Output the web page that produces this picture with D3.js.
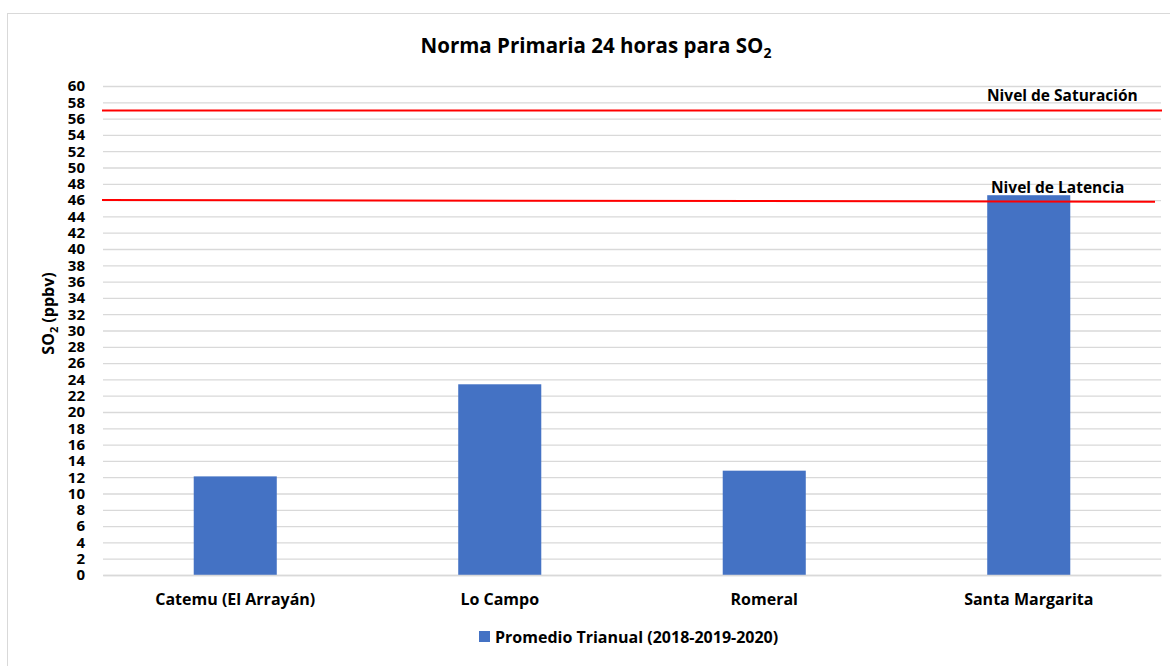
<!DOCTYPE html>
<html>
<head>
<meta charset="utf-8">
<script src="https://cdn.jsdelivr.net/npm/d3@7"></script>
<style>
  body { margin:0; background:#fff; }
  text { font-family: "Open Sans", sans-serif; font-weight:700; fill:#000; }
</style>
</head>
<body>
<div id="canvas"></div>
<script>
// data
var stations = ['Catemu (El Arrayán)', 'Lo Campo', 'Romeral', 'Santa Margarita'];
var promedio = [12.1, 23.4, 12.8, 46.6];
var levelNames = ['Nivel de Saturación', 'Nivel de Latencia'];
var levelStart = [57, 46];
var levelEnd = [57, 45.8];
var yTicks = d3.range(0, 62, 2);
var seriesName = 'Promedio Trianual (2018-2019-2020)';

var W = 1170, H = 666;
var m = {t:86, r:9, b:91, l:103};
var w = W - m.l - m.r, h = H - m.t - m.b;
var FONT = '"Open Sans", sans-serif';

var svg = d3.select('#canvas').append('svg')
  .attr('width', W).attr('height', H);

// outer chart border
svg.append('rect')
  .attr('x', 7.5).attr('y', 13.5)
  .attr('width', W).attr('height', H)
  .attr('fill', 'none').attr('stroke', '#d9d9d9');

var plot = svg.append('g')
  .attr('transform', 'translate(' + m.l + ',' + m.t + ')');

var x = d3.scaleBand().domain(stations).range([0, w]).paddingInner(0.686).paddingOuter(0.343);
var y = d3.scaleLinear().domain([0, 60]).range([h, 0]);

// gridlines
plot.append('g').attr('class', 'grid')
  .call(d3.axisLeft(y).tickValues(yTicks).tickSize(-w).tickFormat(''))
  .call(function(g){
    g.select('.domain').remove();
    g.selectAll('line').attr('stroke', '#d9d9d9').attr('stroke-width', 1.3);
  });

// y tick labels
plot.append('g')
  .call(d3.axisLeft(y).tickValues(yTicks).tickSize(0).tickPadding(18))
  .call(function(g){
    g.select('.domain').remove();
    g.selectAll('text').style('font-size', '15px').style('font-family', FONT).style('font-weight', 700);
  });

// bars
plot.selectAll('rect.bar')
  .data(promedio)
  .enter().append('rect')
  .attr('class', 'bar')
  .attr('x', function(d, i){ return x(stations[i]); })
  .attr('width', x.bandwidth())
  .attr('y', function(d){ return y(d); })
  .attr('height', function(d){ return h - y(d); })
  .attr('fill', '#4472c4');

// x axis
plot.append('g')
  .attr('transform', 'translate(0,' + h + ')')
  .call(d3.axisBottom(x).tickSize(0).tickPadding(19))
  .call(function(g){
    g.select('.domain').attr('stroke', '#d9d9d9').attr('stroke-width', 1.3);
    g.selectAll('text').style('font-size', '16px').style('font-family', FONT).style('font-weight', 700);
  });

// threshold lines
var levelEndX = [w + 1, w - 6];
levelNames.forEach(function(name, i){
  plot.append('line')
    .attr('x1', -1).attr('x2', levelEndX[i])
    .attr('y1', y(levelStart[i])).attr('y2', y(levelEnd[i]))
    .attr('stroke', '#ff0000').attr('stroke-width', 2);
});
plot.append('text').attr('x', 884).attr('y', y(levelStart[0]) - 9)
  .style('font-size', '15.5px').text(levelNames[0]);
plot.append('text').attr('x', 888).attr('y', y(levelStart[1]) - 7)
  .style('font-size', '15.5px').text(levelNames[1]);

// title
var title = svg.append('text').attr('x', 596).attr('y', 53)
  .attr('text-anchor', 'middle').style('font-size', '20.5px');
title.append('tspan').text('Norma Primaria 24 horas para SO');
title.append('tspan').attr('dy', 5).style('font-size', '14px').text('2');

// y axis label
var yl = svg.append('text')
  .attr('transform', 'translate(54,' + (m.t + h / 2 - 17) + ') rotate(-90)')
  .attr('text-anchor', 'middle').style('font-size', '16px');
yl.append('tspan').text('SO');
yl.append('tspan').attr('dy', 4).style('font-size', '11px').text('2');
yl.append('tspan').attr('dy', -4).text(' (ppbv)');

// legend
var lg = svg.append('g').attr('transform', 'translate(479,631)');
lg.append('rect').attr('width', 11).attr('height', 11).attr('fill', '#4472c4');
lg.append('text').attr('x', 16).attr('y', 11.5).style('font-size', '16px').text(seriesName);
</script>
</body>
</html>
